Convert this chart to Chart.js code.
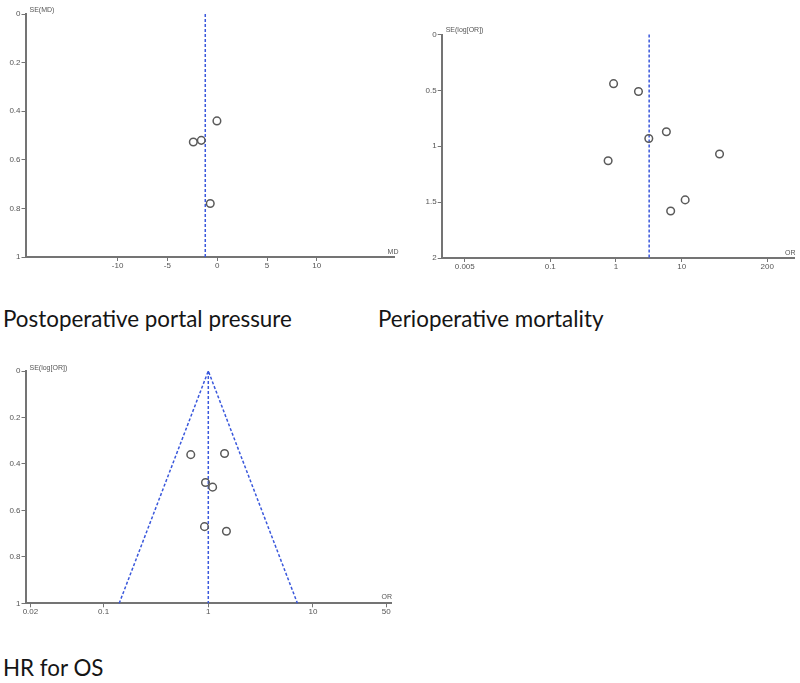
<!DOCTYPE html>
<html>
<head>
<meta charset="utf-8">
<script src="https://cdn.jsdelivr.net/npm/chart.js@4.4.1/dist/chart.umd.min.js"></script>
<style>
  body { margin: 0; background: #fff; width: 800px; height: 683px; position: relative; overflow: hidden; }
  canvas { position: absolute; }
  .cap { position: absolute; font-family: Lato, "Open Sans", sans-serif; font-size: 22.4px; line-height: 22px; color: #151515; white-space: nowrap; }
</style>
</head>
<body>
<canvas id="c1" width="400" height="275" style="left:0;top:0"></canvas>
<canvas id="c2" width="400" height="275" style="left:400px;top:0"></canvas>
<canvas id="c3" width="400" height="275" style="left:0;top:350px"></canvas>
<div class="cap" style="left:3px;top:308px">Postoperative portal pressure</div>
<div class="cap" style="left:378px;top:308px">Perioperative mortality</div>
<div class="cap" style="left:3px;top:657px">HR for OS</div>
<script>
// Postoperative portal pressure (MD)
const ppMD = [-0.03, -2.4, -1.6, -0.7];
const ppSE = [0.44, 0.527, 0.52, 0.78];
const ppPooled = -1.2;
const ppXTicks = [-10, -5, 0, 5, 10];
const ppYTicks = [0, 0.2, 0.4, 0.6, 0.8, 1];

// Perioperative mortality (OR)
const pmOR = [0.92, 2.2, 5.85, 3.16, 37.7, 0.76, 11.3, 6.8];
const pmSE = [0.44, 0.51, 0.87, 0.93, 1.07, 1.13, 1.48, 1.58];
const pmPooled = 3.2;
const pmXTicks = [0.005, 0.1, 1, 10, 200];
const pmYTicks = [0, 0.5, 1, 1.5, 2];

// HR for OS
const osHR = [0.68, 1.43, 0.94, 1.10, 0.92, 1.49];
const osSE = [0.36, 0.355, 0.48, 0.50, 0.67, 0.69];
const osPooled = 1.0;
const osFunnel = [0.141, 7.1]; // limits at SE = 1
const osXTicks = [0.02, 0.1, 1, 10, 50];
const osYTicks = [0, 0.2, 0.4, 0.6, 0.8, 1];

const blue = "#3a58dc";
const axisGrey = "#747474";

// petits libellés des axes
const axisNames = {
  id: "axisNames",
  afterDraw(chart, args, opts) {
    const { ctx, chartArea: a } = chart;
    ctx.save();
    ctx.font = "7px 'Liberation Sans'";
    ctx.fillStyle = "#555";
    ctx.textBaseline = "middle";
    ctx.textAlign = "left";
    ctx.fillText(opts.y, a.left + 4, a.top + opts.dy);
    ctx.textAlign = "right";
    ctx.fillText(opts.x, a.right + opts.dxr, a.bottom + opts.dxb);
    ctx.restore();
  },
};

function pts(xs, ys) {
  return xs.map((x, i) => ({ x: x, y: ys[i] }));
}

function makeChart(id, cfg) {
  const tickFont = { family: "'Liberation Sans'", size: 8 };
  new Chart(document.getElementById(id), {
    type: "scatter",
    data: {
      datasets: [
        {
          data: pts(cfg.xs, cfg.ys),
          pointRadius: 3.8,
          pointBorderWidth: 1.5,
          pointBorderColor: "#5a5a5a",
          pointBackgroundColor: "rgba(0,0,0,0)",
          showLine: false,
        },
      ].concat(cfg.lines.map((l) => ({
        data: l,
        showLine: true,
        borderColor: blue,
        borderWidth: 1.5,
        borderDash: [3, 2],
        pointRadius: 0,
        clip: false,
      }))),
    },
    options: {
      responsive: false,
      animation: false,
      layout: { padding: cfg.pad },
      plugins: {
        legend: { display: false },
        tooltip: { enabled: false },
        axisNames: cfg.names,
      },
      scales: {
        x: {
          type: cfg.xType,
          min: cfg.xMin,
          max: cfg.xMax,
          bounds: "data",
          afterBuildTicks: (s) => { s.ticks = cfg.xTicks.map((v) => ({ value: v })); },
          afterFit: (s) => { s.height = cfg.xH; },
          ticks: { font: tickFont, color: "#555", padding: 0, maxRotation: 0, autoSkip: false, callback: (v) => String(v) },
          grid: { drawOnChartArea: false, tickLength: 4, color: axisGrey },
          border: { color: axisGrey, width: 2 },
        },
        y: {
          type: "linear",
          reverse: true,
          min: cfg.yTicks[0],
          max: cfg.yTicks[cfg.yTicks.length - 1],
          bounds: "data",
          afterBuildTicks: (s) => { s.ticks = cfg.yTicks.map((v) => ({ value: v })); },
          afterFit: (s) => { s.width = cfg.yW; },
          ticks: { font: tickFont, color: "#555", padding: 1, autoSkip: false, callback: (v) => String(v) },
          grid: { drawOnChartArea: false, tickLength: 4, color: axisGrey },
          border: { color: axisGrey, width: 2 },
        },
      },
    },
    plugins: [axisNames],
  });
}

makeChart("c1", {
  xs: ppMD, ys: ppSE,
  lines: [[{ x: ppPooled, y: 0 }, { x: ppPooled, y: 1 }]],
  xType: "linear", xMin: -19.25, xMax: 17.8, xTicks: ppXTicks, yTicks: ppYTicks,
  pad: { left: 0, top: 14, right: 4, bottom: 0 }, xH: 18, yW: 25.5,
  names: { x: "MD", y: "SE(MD)", dy: -4, dxr: 4, dxb: -5 },
});

makeChart("c2", {
  xs: pmOR, ys: pmSE,
  lines: [[{ x: pmPooled, y: 0 }, { x: pmPooled, y: 2 }]],
  xType: "logarithmic", xMin: 0.00223, xMax: 521, xTicks: pmXTicks, yTicks: pmYTicks,
  pad: { left: 0, top: 34.5, right: 4, bottom: 0 }, xH: 17, yW: 41.7,
  names: { x: "OR", y: "SE(log[OR])", dy: -4, dxr: 1, dxb: -5 },
});

makeChart("c3", {
  xs: osHR, ys: osSE,
  lines: [
    [{ x: osPooled, y: 0 }, { x: osPooled, y: 1 }],
    [{ x: osFunnel[0], y: 1 }, { x: osPooled, y: 0 }, { x: osFunnel[1], y: 1 }],
  ],
  xType: "logarithmic", xMin: 0.01795, xMax: 55.6, xTicks: osXTicks, yTicks: osYTicks,
  pad: { left: 0, top: 21, right: 9, bottom: 0 }, xH: 21.7, yW: 25.5,
  names: { x: "OR", y: "SE(log[OR])", dy: -3, dxr: 1, dxb: -6 },
});
</script>
</body>
</html>
